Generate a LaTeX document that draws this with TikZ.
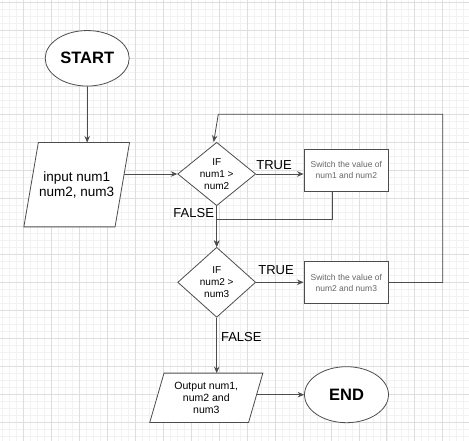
\documentclass[tikz,border=0pt]{standalone}
\usepackage{fontspec}
\setmainfont{Liberation Sans}
\usetikzlibrary{shapes.geometric,arrows.meta}
\pgfdeclarelayer{gridlayer}
\pgfdeclarelayer{edgelayer}
\pgfdeclarelayer{shapelayer}
\pgfsetlayers{gridlayer,edgelayer,shapelayer,main}
\definecolor{gridminor}{HTML}{F2F2F2}
\definecolor{gridmajor}{HTML}{DEDEDE}
\definecolor{strokec}{HTML}{4D4D4D}
\definecolor{boxtext}{HTML}{666666}
\tikzset{
 shapeline/.style={draw=strokec, line width=0.8pt, fill=white},
 terminal/.style={shapeline, ellipse, inner sep=0pt, minimum width=84pt, minimum height=55.5pt, font=\fontsize{16.5}{18}\selectfont\bfseries},
 iobox/.style={rectangle, inner sep=0pt, align=center},
 decision/.style={shapeline, diamond, inner sep=1pt, minimum width=78pt},
 process/.style={shapeline, rectangle, inner sep=0pt, minimum width=84.7pt, minimum height=41.7pt, align=center, text=boxtext, font=\fontsize{8.5}{11}\selectfont},
 flow/.style={draw=strokec, line width=0.8pt, -{Stealth[length=6.5pt,width=5.5pt]}},
 answer/.style={font=\fontsize{13}{15}\selectfont, inner sep=0pt},
 centertext/.style={align=center, inner sep=0pt},
}
\begin{document}
\begin{tikzpicture}[x=1pt,y=-1pt]
\useasboundingbox (0,0) rectangle (469,441);
\begin{pgfonlayer}{gridlayer}
\fill[white] (0,0) rectangle (469,441);
\foreach \i in {-3,...,64} {
 \draw[gridminor, line width=0.5pt] ({23.3+6.99*\i},0) -- ({23.3+6.99*\i},441);
}
\foreach \i in {0,...,63} {
 \draw[gridminor, line width=0.5pt] (0,{2.7+6.99*\i}) -- (469,{2.7+6.99*\i});
}
\foreach \i in {0,...,16} {
 \draw[gridmajor, line width=0.6pt] ({23.3+27.96*\i},0) -- ({23.3+27.96*\i},441);
}
\foreach \i in {0,...,15} {
 \draw[gridmajor, line width=0.6pt] (0,{2.7+27.96*\i}) -- (469,{2.7+27.96*\i});
}
\end{pgfonlayer}

\node[terminal] (start) at (87.2,58.3) {START};
\node[iobox, minimum width=105.3pt, minimum height=84pt,
  font=\fontsize{13.5}{15}\selectfont] (input) at (76.7,184.7) {input num1\\num2, num3};
\node[decision, minimum height=63.4pt,
  label={[centertext, font=\fontsize{10}{12}\selectfont]center:{IF\\num1 >\\num2}}] (d1) at (216.7,174) {};
\node[decision, minimum height=70pt,
  label={[centertext, font=\fontsize{10}{12}\selectfont]center:{IF\\num2 >\\num3}}] (d2) at (216.7,282.3) {};
\node[process] (box1) at (346.3,170.2) {Switch the value of\\num1 and num2};
\node[process] (box2) at (346.3,282.5) {Switch the value of\\num2 and num3};
\node[iobox, minimum width=112.7pt, minimum height=49pt,
  font=\fontsize{10.5}{11.7}\selectfont] (output) at (206.3,397.8) {Output num1,\\num2 and\\num3};
\node[terminal, minimum height=56pt] (end) at (346.5,394.7) {END};

\node[answer] (t1) at (274,165) {TRUE};
\node[answer] (t2) at (276,270) {TRUE};
\node[answer] (f1) at (193.7,213.3) {FALSE};
\node[answer] (f2) at (241.3,337) {FALSE};

\begin{pgfonlayer}{shapelayer}
\draw[shapeline] ([xshift=14.5pt]input.north west) -- (input.north east)
  -- ([xshift=-14.5pt]input.south east) -- (input.south west) -- cycle;
\draw[shapeline] ([xshift=14.3pt]output.north west) -- (output.north east)
  -- ([xshift=-14.3pt]output.south east) -- (output.south west) -- cycle;
\end{pgfonlayer}

\begin{pgfonlayer}{edgelayer}
\draw[flow] (start.south) -- (start.south |- input.north);
\draw[flow] (d1.west -| input.center) -- (d1.west);
\draw[flow] (d1.east) -- (d1.east -| box1.west);
\draw[flow] (d1.south) -- (d2.north);
\coordinate (j1) at (216.7,219.3);
\draw[flow] ([xshift=-14pt]box1.south) |- (j1) -- (d2.north);
\draw[flow] (d2.east) -- (d2.east -| box2.west);
\coordinate (c1) at (442.7,114.3);
\coordinate (c2) at (218.3,114.3);
\draw[flow] (box2.east) -| (c1) -- (c2) -- ([xshift=-3pt]d1.north);
\draw[flow] (d2.south) -- (d2.south |- output.north);
\draw[flow] (end.west -| output.center) -- (end.west);
\end{pgfonlayer}
\end{tikzpicture}
\end{document}
